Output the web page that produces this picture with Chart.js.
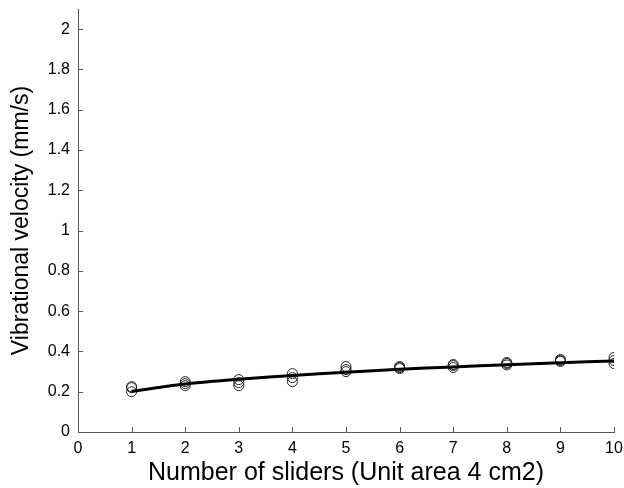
<!DOCTYPE html>
<html>
<head>
<meta charset="utf-8">
<script src="https://cdn.jsdelivr.net/npm/chart.js@4"></script>
<style>
  html, body { margin: 0; padding: 0; background: #fff; }
  #wrap { width: 624px; height: 488px; position: relative; }
</style>
</head>
<body>
<div id="wrap"><canvas id="c" width="624" height="488"></canvas></div>
<script>
// ---- data ----
const sliders = [1, 2, 3, 4, 5, 6, 7, 8, 9, 10];
const run1 = [0.200, 0.230, 0.230, 0.250, 0.300, 0.315, 0.320, 0.333, 0.350, 0.340];
const run2 = [0.220, 0.240, 0.245, 0.270, 0.310, 0.320, 0.330, 0.340, 0.355, 0.355];
const run3 = [0.225, 0.250, 0.260, 0.290, 0.325, 0.325, 0.335, 0.345, 0.360, 0.370];
const fitCurve = [0.202, 0.238, 0.262, 0.281, 0.297, 0.311, 0.323, 0.334, 0.344, 0.353];
const xTicks = [0, 1, 2, 3, 4, 5, 6, 7, 8, 9, 10];
const yTicks = [0, 0.2, 0.4, 0.6, 0.8, 1, 1.2, 1.4, 1.6, 1.8, 2];
const xTitle = 'Number of sliders (Unit area 4 cm2)';
const yTitle = 'Vibrational velocity (mm/s)';

const pts = [];
[run1, run2, run3].forEach(r => sliders.forEach((s, i) => pts.push({x: s, y: r[i]})));
const fitPts = sliders.map((s, i) => ({x: s, y: fitCurve[i]}));

const FONT = "'Liberation Sans', Arial, Helvetica, sans-serif";
const AXIS_COLOR = '#555';
const fmt = v => String(+Number(v).toFixed(1));

const innerTicks = {
  id: 'innerTicks',
  afterDatasetsDraw(chart) {
    const {ctx, scales: {x, y}} = chart;
    ctx.save();
    ctx.strokeStyle = AXIS_COLOR;
    ctx.lineWidth = 1;
    ctx.beginPath();
    xTicks.forEach(v => {
      const px = Math.round(x.getPixelForValue(v)) + 0.5;
      ctx.moveTo(px, y.bottom);
      ctx.lineTo(px, y.bottom - 5);
    });
    yTicks.forEach(v => {
      const py = Math.round(y.getPixelForValue(v)) + 0.5;
      ctx.moveTo(x.left, py);
      ctx.lineTo(x.left + 5, py);
    });
    ctx.stroke();
    ctx.restore();
  }
};

const zeroPad = s => { s.paddingLeft = 0; s.paddingRight = 0; s.paddingTop = 0; s.paddingBottom = 0; };

new Chart(document.getElementById('c'), {
  type: 'scatter',
  data: {
    datasets: [
      {
        label: 'measured',
        data: pts,
        showLine: false,
        pointStyle: 'circle',
        pointRadius: 5,
        pointBorderWidth: 1,
        pointBorderColor: '#222',
        pointBackgroundColor: 'rgba(0,0,0,0)',
        order: 2
      },
      {
        label: 'fit',
        data: fitPts,
        showLine: true,
        borderColor: '#000',
        borderWidth: 3,
        pointRadius: 0,
        tension: 0.3,
        fill: false,
        order: 1
      }
    ]
  },
  options: {
    responsive: false,
    animation: false,
    devicePixelRatio: 1,
    layout: { padding: { left: 0, right: 10, top: 9, bottom: 0 } },
    plugins: { legend: { display: false }, tooltip: { enabled: false } },
    scales: {
      x: {
        type: 'linear',
        min: 0, max: 10,
        afterBuildTicks: s => { s.ticks = xTicks.map(v => ({value: v})); },
        afterFit: s => { s.height = 56; zeroPad(s); },
        grid: { display: false, drawTicks: false },
        border: { display: true, color: AXIS_COLOR, width: 1 },
        ticks: { color: '#000', font: { family: FONT, size: 16 }, padding: 7, maxRotation: 0, callback: fmt },
        title: { display: true, text: xTitle, color: '#000', font: { family: FONT, size: 25 }, padding: { top: 0, bottom: 0 } }
      },
      y: {
        type: 'linear',
        min: 0, max: 2.1,
        afterBuildTicks: s => { s.ticks = yTicks.map(v => ({value: v})); },
        afterFit: s => { s.width = 78; zeroPad(s); },
        grid: { display: false, drawTicks: false },
        border: { display: true, color: AXIS_COLOR, width: 1 },
        ticks: { color: '#000', font: { family: FONT, size: 16 }, padding: 8, callback: fmt },
        title: { display: true, text: yTitle, color: '#000', font: { family: FONT, size: 23 }, padding: { top: 8, bottom: 0 } }
      }
    }
  },
  plugins: [innerTicks]
});
</script>
</body>
</html>
